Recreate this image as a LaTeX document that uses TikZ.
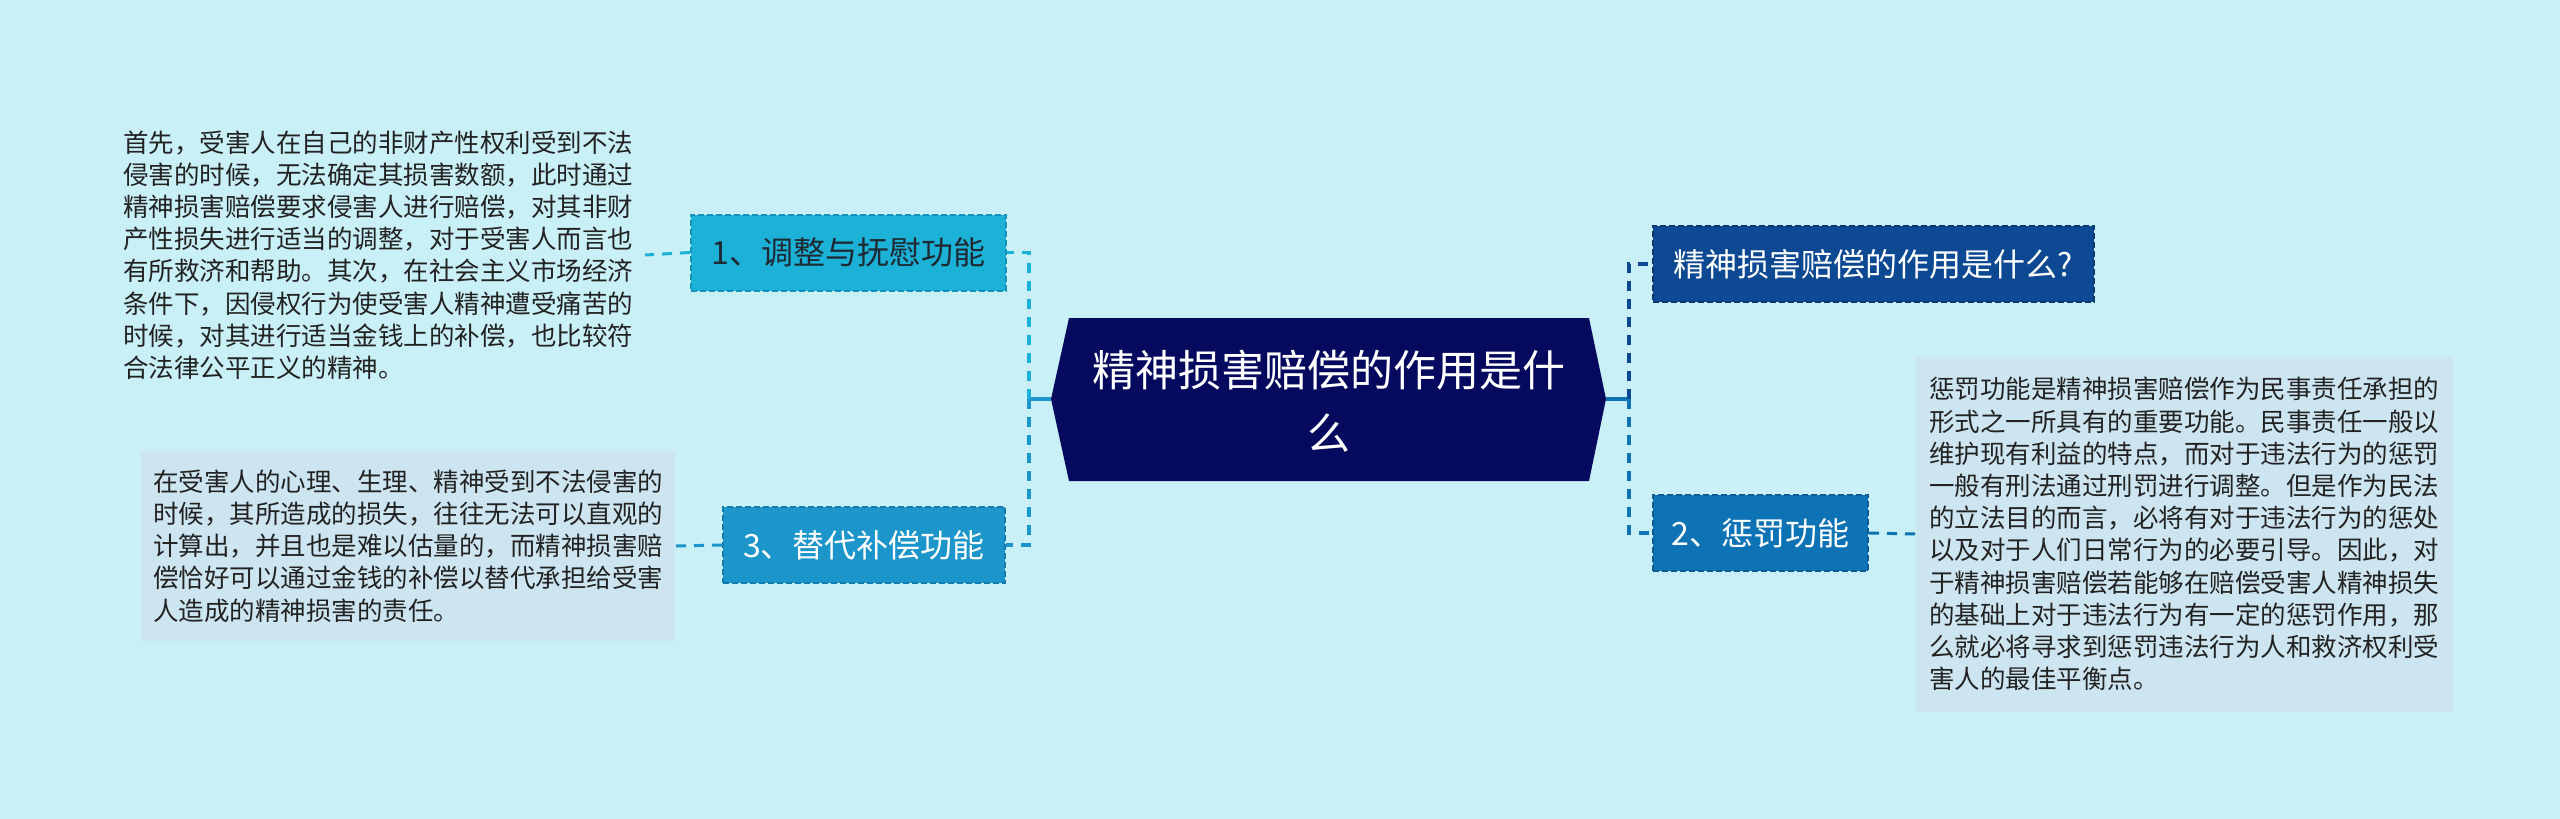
\documentclass[tikz,border=0pt]{standalone}
\usepackage{fontspec}
\newfontfamily\cjk{Noto Sans CJK SC}
\definecolor{bgc}{HTML}{C9EFF7}
\definecolor{centralc}{HTML}{050A5F}
\definecolor{nonec}{HTML}{1CB1D7}
\definecolor{noned}{HTML}{1592B8}
\definecolor{nthreec}{HTML}{1B95CA}
\definecolor{nthreed}{HTML}{137CAE}
\definecolor{nfourc}{HTML}{0C4992}
\definecolor{nfourd}{HTML}{09396F}
\definecolor{ntwoc}{HTML}{0D73B5}
\definecolor{ntwod}{HTML}{0A5C93}
\definecolor{leafbg}{HTML}{CDE5F0}
\definecolor{darkt}{HTML}{1E2A33}
\definecolor{textdark}{HTML}{222222}
\begin{document}
\begin{tikzpicture}[x=1pt,y=-1pt,
  conn/.style={line width=3.5pt, dash pattern=on 10pt off 8pt},
  leafconn/.style={line width=3pt, dash pattern=on 10pt off 8pt},
  stub/.style={line width=3.5pt},
  topic/.style={draw, line width=2pt, dash pattern=on 6pt off 3pt, minimum height=76pt, inner sep=0pt, font=\cjk\fontsize{32}{38}\selectfont, text=white},
  leaf/.style={align=left, inner ysep=0pt, font=\cjk\fontsize{25.5}{32.2}\selectfont, text=textdark},
]
\fill[bgc] (0,0) rectangle (2560,819);
\useasboundingbox (0,0) rectangle (2560,819);

% central topic
\fill[centralc] (1069,318) -- (1589,318) -- (1606,399) -- (1589,481) -- (1069,481) -- (1051,399) -- cycle;
\coordinate (cl) at (1051,399);
\coordinate (cr) at (1606,399);
\node[font=\cjk\fontsize{43}{63}\selectfont, text=white, align=center, inner sep=0pt] (c) at (1328.5,401) {精神损害赔偿的作用是什\\么};

% main topics
\node[topic, fill=nonec, draw=noned, text=darkt, minimum width=315pt] (n1) at (848.5,252.5) {1、调整与抚慰功能};
\node[topic, fill=nthreec, draw=nthreed, minimum width=282pt] (n3) at (864,545) {3、替代补偿功能};
\node[topic, fill=nfourc, draw=nfourd, minimum width=441pt] (n4) at (1873.5,264) {精神损害赔偿的作用是什么?};
\node[topic, fill=ntwoc, draw=ntwod, minimum width=215pt] (n2) at (1760.5,533) {2、惩罚功能};

% leaves
\node[leaf, inner xsep=12pt] (b1) at (378,255) {首先，受害人在自己的非财产性权利受到不法\\侵害的时候，无法确定其损害数额，此时通过\\精神损害赔偿要求侵害人进行赔偿，对其非财\\产性损失进行适当的调整，对于受害人而言也\\有所救济和帮助。其次，在社会主义市场经济\\条件下，因侵权行为使受害人精神遭受痛苦的\\时候，对其进行适当金钱上的补偿，也比较符\\合法律公平正义的精神。};
\node[leaf, fill=leafbg, minimum width=534pt, minimum height=190pt] (b3) at (408,546) {在受害人的心理、生理、精神受到不法侵害的\\时候，其所造成的损失，往往无法可以直观的\\计算出，并且也是难以估量的，而精神损害赔\\偿恰好可以通过金钱的补偿以替代承担给受害\\人造成的精神损害的责任。};
\node[leaf, fill=leafbg, minimum width=537pt, minimum height=355pt] (b2) at (2184,534) {惩罚功能是精神损害赔偿作为民事责任承担的\\形式之一所具有的重要功能。民事责任一般以\\维护现有利益的特点，而对于违法行为的惩罚\\一般有刑法通过刑罚进行调整。但是作为民法\\的立法目的而言，必将有对于违法行为的惩处\\以及对于人们日常行为的必要引导。因此，对\\于精神损害赔偿若能够在赔偿受害人精神损失\\的基础上对于违法行为有一定的惩罚作用，那\\么就必将寻求到惩罚违法行为人和救济权利受\\害人的最佳平衡点。};

% connectors
\coordinate (lt) at (1029,399);
\coordinate (rt) at (1629,399);
\draw[stub, nthreec] (cl) -- (lt);
\draw[stub, ntwoc] (cr) -- (rt);
\draw[conn, nonec] (lt) -- (lt |- n1.east) -- (n1.east);
\draw[conn, nthreec] (lt) -- (lt |- n3.east) -- (n3.east);
\draw[conn, nfourc] (rt) -- (rt |- n4.west) -- (n4.west);
\draw[conn, ntwoc] (rt) -- (rt |- n2.west) -- (n2.west);
\draw[leafconn, nonec] (n1.west) -- (b1.east);
\draw[leafconn, nthreec] (n3.west) -- (b3.east);
\draw[leafconn, ntwoc] (n2.east) -- (b2.west);
\end{tikzpicture}
\end{document}
